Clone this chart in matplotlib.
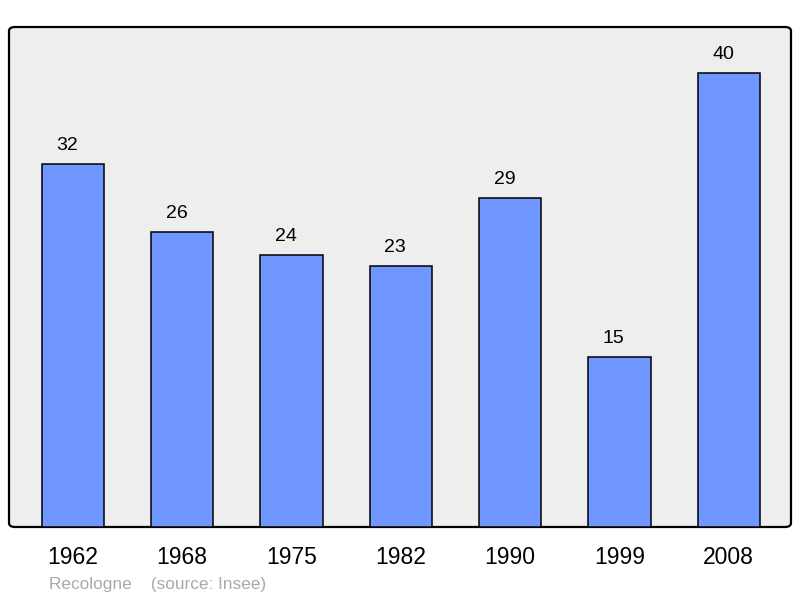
import matplotlib.pyplot as plt
from matplotlib.patches import FancyBboxPatch

plt.rcParams['font.family'] = ['Liberation Sans', 'DejaVu Sans']

years = ["1962", "1968", "1975", "1982", "1990", "1999", "2008"]
population = [32, 26, 24, 23, 29, 15, 40]

fig = plt.figure(figsize=(8, 5.98), dpi=100)
ax = fig.add_axes([9/800, 71/598, 782/800, 500/598])
ax.set_facecolor('none')
for s in ax.spines.values():
    s.set_visible(False)

# rounded frame
frame = FancyBboxPatch((0, 0), 1, 1, boxstyle="round,pad=0,rounding_size=0.008",
                       transform=ax.transAxes, facecolor='#eeeeee',
                       edgecolor='black', linewidth=1.6, zorder=0, clip_on=False)
ax.add_patch(frame)

x = range(len(years))
ax.bar(x, population, width=0.57, color='#7097ff', edgecolor='black',
       linewidth=1.1, zorder=2)

for i, v in zip(x, population):
    ax.annotate(str(v), (i, v), xytext=(-4, 10), textcoords='offset points',
                ha='center', va='baseline', fontsize=14)

ax.set_xlim(-0.585, 6.57)
ax.set_ylim(0, 44.05)
ax.set_yticks([])
ax.set_xticks(list(x))
ax.set_xticklabels(years, fontsize=16.5)
ax.tick_params(axis='x', length=0, pad=14)

fig.text(49/800, 1 - 584/598, "Recologne    (source: Insee)", color='#aaaaaa',
         fontsize=12.4, va='center', ha='left')

fig.savefig('out.png', dpi=100)
